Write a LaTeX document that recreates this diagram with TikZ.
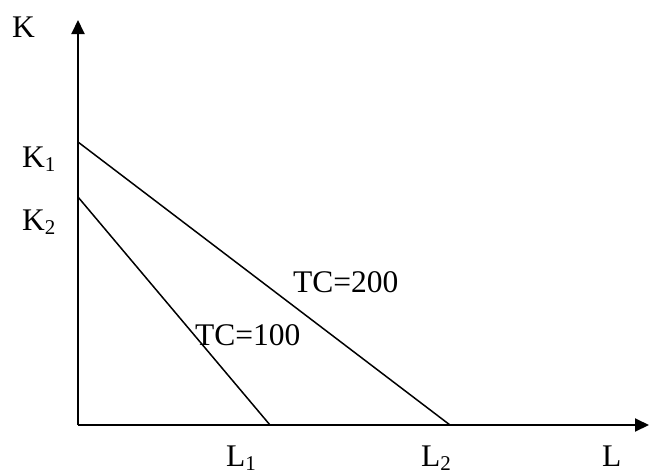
\documentclass[tikz,border=0pt]{standalone}
\usepackage{fontspec}
\setmainfont{Liberation Serif}
\usetikzlibrary{arrows.meta}
\newcommand{\lbsub}[1]{\raisebox{-4pt}{\fontsize{21}{21}\selectfont #1}}
\tikzset{
  lab/.style={inner sep=0pt, anchor=base west, font=\fontsize{31.5}{31.5}\selectfont},
  axis/.style={line width=2pt, -{Triangle[length=14pt,width=13pt]}},
  tcline/.style={line width=1.5pt}
}
\begin{document}
\begin{tikzpicture}[x=1pt,y=-1pt]
\useasboundingbox (0,0) rectangle (649,475);
\coordinate (O) at (78,425);
\coordinate (ytip) at (78,20);
\coordinate (xtip) at (649,425);
\coordinate (k1) at (78,142);
\coordinate (k2) at (78,197);
\coordinate (l1) at (270,425);
\coordinate (l2) at (450,425);
\draw[axis] (O) -- (ytip);
\draw[axis] (O) -- (xtip);
\draw[tcline] (k1) -- (l2);
\draw[tcline] (k2) -- (l1);
\node[lab] (K) at (12,37) {K};
\node[lab] (K1) at (22,167) {K\lbsub{1}};
\node[lab] (K2) at (22,230) {K\lbsub{2}};
\node[lab] (L1) at (226,466) {L\lbsub{1}};
\node[lab] (L2) at (421,466) {L\lbsub{2}};
\node[lab] (L) at (602,466) {L};
\node[lab] (tc200) at (293,292) {TC=200};
\node[lab] (tc100) at (195,345) {TC=100};
\end{tikzpicture}
\end{document}
